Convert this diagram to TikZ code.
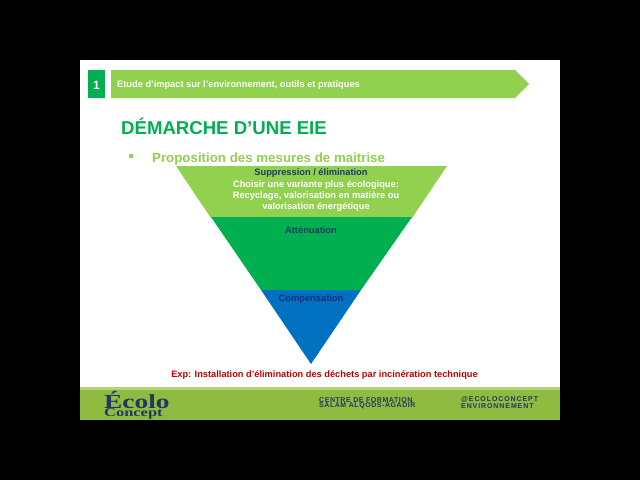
\documentclass[tikz,border=0pt]{standalone}
\usepackage{fontspec}
\setmainfont{Liberation Sans}
\newfontfamily\logofont[FakeStretch=1.37]{Liberation Serif}
\definecolor{lightgreen}{HTML}{92D050}
\definecolor{darkgreen}{HTML}{00B050}
\definecolor{bandblue}{HTML}{0070C0}
\definecolor{footgreen}{HTML}{8FBB40}
\definecolor{footlight}{HTML}{B5D27A}
\definecolor{navy}{HTML}{1F3864}
\definecolor{compblue}{HTML}{10307A}
\definecolor{slidered}{HTML}{C00000}
\begin{document}
\begin{tikzpicture}[
                    x=1pt, y=-1pt,
                    every node/.style={inner sep=0pt, font=\bfseries},
                    band/.style={align=center, font=\bfseries\fontsize{9.3}{11.3}\selectfont, text=navy},
                    foot/.style={align=left, text=navy, anchor=west}
                    ]

                    \useasboundingbox (0,0) rectangle (640,480);
                    \fill[black] (0,0) rectangle (640,480);
                    \fill[white] (80,60) rectangle (560,420);

                    % header
                    \fill[darkgreen] (88,70) rectangle (105,98);
                    \fill[lightgreen] (111,70) -- (515,70) -- (529,84) -- (515,98) -- (111,98) -- cycle;
                    \node[text=white, font=\bfseries\fontsize{12}{12}\selectfont] (num) at (96.5,85) {1};
                    \node[anchor=west, text=white, font=\bfseries\fontsize{9.27}{10}\selectfont] (header) at (117,85) {Etude d’impact sur l’environnement, outils et pratiques};

                    % title
                    \node[anchor=base west, text=darkgreen, font=\bfseries\fontsize{18.6}{20}\selectfont] (title) at (121,134) {DÉMARCHE D’UNE EIE};
                    \fill[lightgreen] (129,154) rectangle (133,158);
                    \node[anchor=base west, text=lightgreen, font=\bfseries\fontsize{13.3}{14}\selectfont] (sub) at (152,162) {Proposition des mesures de maitrise};

                    % triangle
                    \fill[lightgreen] (176,166) -- (447,166) -- (412,218) -- (211,218) -- cycle;
                    \fill[darkgreen] (211,217) -- (412,217) -- (361,290) -- (261,290) -- cycle;
                    \fill[bandblue] (261,290) -- (361,290) -- (311,364) -- cycle;

                    \node[band] (supp) at (311,173.5) {Suppression / élimination};
                    \node[band, text=white, anchor=north] (choix) at (316,180) {Choisir une variante plus écologique:\\Recyclage, valorisation en matière ou\\valorisation énergétique};
                    \node[band] (att) at (311,230) {Atténuation};
                    \node[band, text=compblue] (comp) at (311,299.5) {Compensation};

                    \node[text=slidered, font=\bfseries\fontsize{9.26}{10}\selectfont] (exp) at (324.5,375) {Exp: Installation d’élimination des déchets par incinération technique};

                    % footer
                    \fill[footgreen] (80,387) rectangle (560,420);
                    \fill[footlight] (80,387) rectangle (560,390);
                    \node[anchor=base west, font=\logofont\bfseries\fontsize{20}{20}\selectfont, text=navy] (ecolo) at (104,408) {Écolo};
                    \node[anchor=base west, font=\logofont\bfseries\fontsize{12}{12}\selectfont, text=navy] (concept) at (104,416) {Concept};
                    \node[foot, font=\bfseries\addfontfeature{LetterSpace=8}\fontsize{7}{5.5}\selectfont] (centre) at (319,403) {CENTRE DE FORMATION\\SALAM ALQODS-AGADIR};
                    \node[foot, font=\bfseries\addfontfeature{LetterSpace=13}\fontsize{7}{5.5}\selectfont] (reseau) at (461,403) {@ECOLOCONCEPT\\ENVIRONNEMENT};

                \end{tikzpicture}
\end{document}
